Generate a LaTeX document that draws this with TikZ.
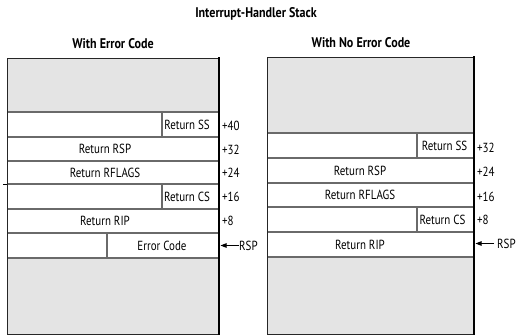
\documentclass[tikz,border=0pt]{standalone}
\usepackage{fontspec}
\setmainfont{PT Sans}[FakeStretch=0.83]
\newfontfamily\headfont{PT Sans}[FakeStretch=0.86]
\usetikzlibrary{arrows.meta}
\definecolor{stackgray}{HTML}{E4E4E4}
\definecolor{linegray}{HTML}{6A6A6A}
\begin{document}
\begin{tikzpicture}[x=1pt,y=-1pt,
  cell/.style={inner sep=0pt, font=\fontsize{13.2}{15}\selectfont},
  offs/.style={inner sep=0pt, anchor=west, font=\fontsize{13.2}{15}\selectfont},
  heading/.style={inner sep=0pt, font=\headfont\bfseries\fontsize{14}{16}\selectfont},
  rowline/.style={draw=linegray, line width=1.1pt},
  outline/.style={draw=black!85, line width=0.9pt},
  edge/.style={draw=black, line width=2.6pt},
  fillbox/.style={fill=stackgray},
  ptr/.style={-{Triangle[length=6pt,width=4.5pt]}, line width=1pt}]
\useasboundingbox (0,0) rectangle (516,335);

% titles
\node[heading] (title) at (256,14) {Interrupt-Handler Stack};
\node[heading] (hl) at (113,44) {With Error Code};
\node[heading] (hr) at (361,43) {With No Error Code};

% ---------- left stack ----------
\fill[fillbox] (7,58) rectangle (218,112);
\fill[fillbox] (7,258) rectangle (218,334);
\foreach \yy in {112,137,161,184,209,233,258}
  \draw[rowline] (7,\yy) -- (218,\yy);
\draw[rowline] (162,112) -- (162,137);
\draw[rowline] (162,184) -- (162,209);
\draw[rowline] (107,233) -- (107,258);
\draw[outline] (218,58) -- (7,58) -- (7,334.5) -- (218,334.5);
\draw[edge] (219,57) -- (219,335);
\draw[line width=0.8pt] (3,184) -- (7,184);

\node[cell] (lss) at (187,124.5) {Return SS};
\node[cell] (lrsp) at (105,149) {Return RSP};
\node[cell] (lrfl) at (105,172.5) {Return RFLAGS};
\node[cell] (lcs) at (187,196.5) {Return CS};
\node[cell] (lrip) at (105,221) {Return RIP};
\node[cell] (lerr) at (162,245.5) {Error Code};

\node[offs] (l40) at (222,126) {+40};
\node[offs] (l32) at (222,149.5) {+32};
\node[offs] (l24) at (222,173) {+24};
\node[offs] (l16) at (222,197) {+16};
\node[offs] (l8)  at (222,221) {+8};
\node[offs] (lp)  at (239,245.5) {RSP};
\coordinate (lptip) at (220.5,245.5);
\draw[ptr] (lp.west) -- (lptip);

% ---------- right stack ----------
\fill[fillbox] (267,57) rectangle (473,133);
\fill[fillbox] (267,257) rectangle (473,334);
\foreach \yy in {133,158,183,207,232,257}
  \draw[rowline] (267,\yy) -- (473,\yy);
\draw[rowline] (417,133) -- (417,158);
\draw[rowline] (417,207) -- (417,232);
\draw[outline] (473,57) -- (267,57) -- (267,334.5) -- (473,334.5);
\draw[edge] (474,56) -- (474,335);

\node[cell] (rss) at (444.5,146) {Return SS};
\node[cell] (rrsp) at (360,170.5) {Return RSP};
\node[cell] (rrfl) at (360,195) {Return RFLAGS};
\node[cell] (rcs) at (442.5,219.5) {Return CS};
\node[cell] (rrip) at (360,244.5) {Return RIP};

\node[offs] (r32) at (477,147.5) {+32};
\node[offs] (r24) at (477,172) {+24};
\node[offs] (r16) at (477,196.5) {+16};
\node[offs] (r8)  at (477,220) {+8};
\node[offs] (rp)  at (497,243.5) {RSP};
\coordinate (rptip) at (475.5,243.5);
\draw[ptr] ([xshift=-3pt]rp.west) -- (rptip);
\end{tikzpicture}
\end{document}
